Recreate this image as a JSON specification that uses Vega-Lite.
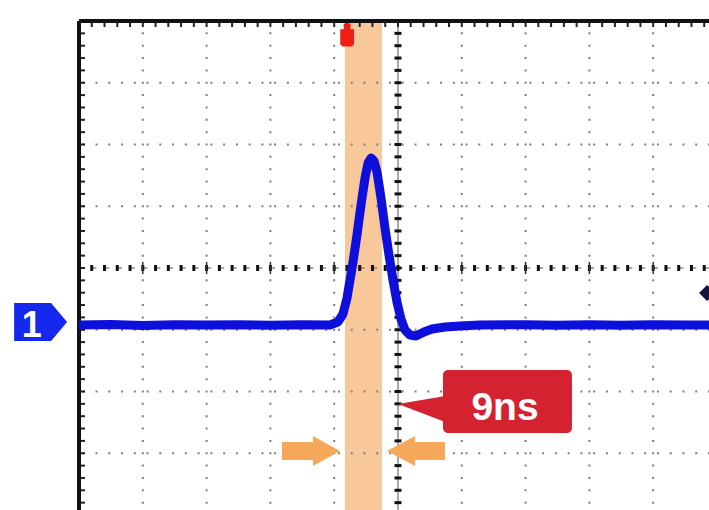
{
  "$schema": "https://vega.github.io/schema/vega-lite/v6.json",
  "width": 630,
  "height": 489,
  "autosize": {"type": "none"},
  "padding": {"left": 79, "top": 21, "right": 0, "bottom": 0},
  "background": "white",
  "config": {"view": {"stroke": null}},
  "datasets": {
    "wave": [
      {"t": -5.0, "v": -0.923}, {"t": -4.5, "v": -0.915}, {"t": -4.0, "v": -0.93}, {"t": -3.5, "v": -0.92},
      {"t": -3.0, "v": -0.925}, {"t": -2.5, "v": -0.918}, {"t": -2.0, "v": -0.928}, {"t": -1.5, "v": -0.92},
      {"t": -1.066, "v": -0.923}, {"t": -0.94, "v": -0.874}, {"t": -0.862, "v": -0.745},
      {"t": -0.799, "v": -0.486}, {"t": -0.752, "v": -0.194}, {"t": -0.705, "v": 0.097},
      {"t": -0.643, "v": 0.534}, {"t": -0.58, "v": 1.02}, {"t": -0.517, "v": 1.457},
      {"t": -0.47, "v": 1.7}, {"t": -0.423, "v": 1.781}, {"t": -0.376, "v": 1.733},
      {"t": -0.329, "v": 1.555}, {"t": -0.266, "v": 1.134}, {"t": -0.204, "v": 0.648},
      {"t": -0.141, "v": 0.211}, {"t": -0.078, "v": -0.194}, {"t": -0.016, "v": -0.551},
      {"t": 0.047, "v": -0.826}, {"t": 0.11, "v": -1.004}, {"t": 0.188, "v": -1.085},
      {"t": 0.282, "v": -1.101}, {"t": 0.408, "v": -1.036}, {"t": 0.533, "v": -0.988},
      {"t": 0.737, "v": -0.955}, {"t": 0.972, "v": -0.939}, {"t": 1.285, "v": -0.923},
      {"t": 2.0, "v": -0.918}, {"t": 2.5, "v": -0.928}, {"t": 3.0, "v": -0.92}, {"t": 3.5, "v": -0.926},
      {"t": 4.0, "v": -0.918}, {"t": 4.5, "v": -0.925}, {"t": 4.875, "v": -0.923}
    ],
    "gridx": [{"x": -4}, {"x": -3}, {"x": -2}, {"x": -1}, {"x": 1}, {"x": 2}, {"x": 3}, {"x": 4}],
    "gridy": [{"y": -3}, {"y": -2}, {"y": -1}, {"y": 1}, {"y": 2}, {"y": 3}],
    "xmajor": [{"x": -4}, {"x": -3}, {"x": -2}, {"x": -1}, {"x": 1}, {"x": 2}, {"x": 3}, {"x": 4}],
    "xminor": [
      {"x": -4.8}, {"x": -4.6}, {"x": -4.4}, {"x": -4.2}, {"x": -4.0}, {"x": -3.8}, {"x": -3.6}, {"x": -3.4}, {"x": -3.2}, {"x": -3.0},
      {"x": -2.8}, {"x": -2.6}, {"x": -2.4}, {"x": -2.2}, {"x": -2.0}, {"x": -1.8}, {"x": -1.6}, {"x": -1.4}, {"x": -1.2}, {"x": -1.0},
      {"x": -0.8}, {"x": -0.6}, {"x": -0.4}, {"x": -0.2}, {"x": 0.0}, {"x": 0.2}, {"x": 0.4}, {"x": 0.6}, {"x": 0.8}, {"x": 1.0},
      {"x": 1.2}, {"x": 1.4}, {"x": 1.6}, {"x": 1.8}, {"x": 2.0}, {"x": 2.2}, {"x": 2.4}, {"x": 2.6}, {"x": 2.8}, {"x": 3.0},
      {"x": 3.2}, {"x": 3.4}, {"x": 3.6}, {"x": 3.8}, {"x": 4.0}, {"x": 4.2}, {"x": 4.4}, {"x": 4.6}, {"x": 4.8}
    ],
    "yminor": [
      {"y": -3.8}, {"y": -3.6}, {"y": -3.4}, {"y": -3.2}, {"y": -3.0}, {"y": -2.8}, {"y": -2.6}, {"y": -2.4}, {"y": -2.2}, {"y": -2.0},
      {"y": -1.8}, {"y": -1.6}, {"y": -1.4}, {"y": -1.2}, {"y": -1.0}, {"y": -0.8}, {"y": -0.6}, {"y": -0.4}, {"y": -0.2}, {"y": 0.0},
      {"y": 0.2}, {"y": 0.4}, {"y": 0.6}, {"y": 0.8}, {"y": 1.0}, {"y": 1.2}, {"y": 1.4}, {"y": 1.6}, {"y": 1.8}, {"y": 2.0},
      {"y": 2.2}, {"y": 2.4}, {"y": 2.6}, {"y": 2.8}, {"y": 3.0}, {"y": 3.2}, {"y": 3.4}, {"y": 3.6}, {"y": 3.8}
    ],
    "band": [{"x1": -0.831, "x2": -0.251}],
    "arrowR": [{"x": -1.364, "y": -2.964}],
    "arrowL": [{"x": 0.282, "y": -2.964}],
    "box": [{"x1": 0.705, "x2": 2.727, "y1": -1.652, "y2": -2.672}],
    "pointer": [{"x": 0.353, "y": -2.283}],
    "label": [{"x": 1.677, "y": -2.462, "text": "9ns"}],
    "ch": [{"x": -5.602, "y": -0.874}],
    "chlabel": [{"x": -5.742, "y": -1.117, "text": "1"}],
    "trig": [{"x": -0.797, "y": 3.773}],
    "level": [{"x": 4.845, "y": -0.405}],
    "border": [{"x": -5, "y": 4}]
  },
  "layer": [
    {
      "data": {"name": "band"},
      "mark": {"type": "rect", "color": "#F8C89A", "opacity": 1},
      "encoding": {
        "x": {"field": "x1", "type": "quantitative", "scale": {"domain": [-5, 4.875], "nice": false, "zero": false}, "axis": null},
        "x2": {"field": "x2"}
      }
    },
    {
      "data": {"name": "gridx"},
      "mark": {"type": "rule", "color": "#7d7d7d", "strokeWidth": 2, "strokeDash": [2, 10.35], "strokeDashOffset": 1},
      "encoding": {
        "x": {"field": "x", "type": "quantitative", "scale": {"domain": [-5, 4.875], "nice": false, "zero": false}, "axis": null}
      }
    },
    {
      "data": {"name": "gridy"},
      "mark": {"type": "rule", "color": "#7d7d7d", "strokeWidth": 2, "strokeDash": [2, 10.76], "strokeDashOffset": 1},
      "encoding": {
        "y": {"field": "y", "type": "quantitative", "scale": {"domain": [-3.919, 4], "nice": false, "zero": false}, "axis": null}
      }
    },
    {
      "data": {"name": "border"},
      "mark": {"type": "rule", "color": "#555555", "strokeWidth": 1},
      "encoding": {
        "x": {"datum": 0, "type": "quantitative", "scale": {"domain": [-5, 4.875], "nice": false, "zero": false}, "axis": null}
      }
    },
    {
      "data": {"name": "border"},
      "mark": {"type": "rule", "color": "#555555", "strokeWidth": 1, "strokeDash": [4, 8.76]},
      "encoding": {
        "y": {"datum": 0, "type": "quantitative", "scale": {"domain": [-3.919, 4], "nice": false, "zero": false}, "axis": null}
      }
    },
    {
      "data": {"name": "xminor"},
      "mark": {"type": "tick", "orient": "vertical", "color": "#111111", "size": 6, "thickness": 3, "opacity": 1},
      "encoding": {
        "x": {"field": "x", "type": "quantitative", "scale": {"domain": [-5, 4.875], "nice": false, "zero": false}, "axis": null},
        "y": {"datum": 0, "type": "quantitative", "scale": {"domain": [-3.919, 4], "nice": false, "zero": false}, "axis": null}
      }
    },
    {
      "data": {"name": "xmajor"},
      "mark": {"type": "tick", "orient": "vertical", "color": "#333333", "size": 12, "thickness": 1.5, "opacity": 1},
      "encoding": {
        "x": {"field": "x", "type": "quantitative", "scale": {"domain": [-5, 4.875], "nice": false, "zero": false}, "axis": null},
        "y": {"datum": 0, "type": "quantitative", "scale": {"domain": [-3.919, 4], "nice": false, "zero": false}, "axis": null}
      }
    },
    {
      "data": {"name": "yminor"},
      "mark": {"type": "tick", "orient": "horizontal", "color": "#111111", "size": 7, "thickness": 3, "opacity": 1},
      "encoding": {
        "x": {"datum": 0, "type": "quantitative", "scale": {"domain": [-5, 4.875], "nice": false, "zero": false}, "axis": null},
        "y": {"field": "y", "type": "quantitative", "scale": {"domain": [-3.919, 4], "nice": false, "zero": false}, "axis": null}
      }
    },
    {
      "data": {"name": "xminor"},
      "mark": {"type": "tick", "orient": "vertical", "color": "#222222", "size": 12, "thickness": 2, "opacity": 1, "clip": true},
      "encoding": {
        "x": {"field": "x", "type": "quantitative", "scale": {"domain": [-5, 4.875], "nice": false, "zero": false}, "axis": null},
        "y": {"datum": 4, "type": "quantitative", "scale": {"domain": [-3.919, 4], "nice": false, "zero": false}, "axis": null}
      }
    },
    {
      "data": {"name": "yminor"},
      "mark": {"type": "tick", "orient": "horizontal", "color": "#222222", "size": 12, "thickness": 2, "opacity": 1, "clip": true},
      "encoding": {
        "x": {"datum": -5, "type": "quantitative", "scale": {"domain": [-5, 4.875], "nice": false, "zero": false}, "axis": null},
        "y": {"field": "y", "type": "quantitative", "scale": {"domain": [-3.919, 4], "nice": false, "zero": false}, "axis": null}
      }
    },
    {
      "data": {"name": "border"},
      "mark": {"type": "rule", "color": "#111111", "strokeWidth": 4},
      "encoding": {
        "x": {"field": "x", "type": "quantitative", "scale": {"domain": [-5, 4.875], "nice": false, "zero": false}, "axis": null}
      }
    },
    {
      "data": {"name": "border"},
      "mark": {"type": "rule", "color": "#111111", "strokeWidth": 4},
      "encoding": {
        "y": {"field": "y", "type": "quantitative", "scale": {"domain": [-3.919, 4], "nice": false, "zero": false}, "axis": null}
      }
    },
    {
      "data": {"name": "wave"},
      "mark": {"type": "line", "color": "#0F0FDC", "strokeWidth": 9, "strokeJoin": "round", "strokeCap": "butt", "clip": true},
      "encoding": {
        "x": {"field": "t", "type": "quantitative", "scale": {"domain": [-5, 4.875], "nice": false, "zero": false}, "axis": null},
        "y": {"field": "v", "type": "quantitative", "scale": {"domain": [-3.919, 4], "nice": false, "zero": false}, "axis": null}
      }
    },
    {
      "data": {"name": "arrowR"},
      "mark": {"type": "point", "shape": "M -1 -0.31 L 0.07 -0.31 L 0.07 -0.52 L 1 0 L 0.07 0.52 L 0.07 0.31 L -1 0.31 Z", "filled": true, "size": 3364, "color": "#F5A85A", "opacity": 1, "strokeWidth": 0},
      "encoding": {
        "x": {"field": "x", "type": "quantitative", "scale": {"domain": [-5, 4.875], "nice": false, "zero": false}, "axis": null},
        "y": {"field": "y", "type": "quantitative", "scale": {"domain": [-3.919, 4], "nice": false, "zero": false}, "axis": null}
      }
    },
    {
      "data": {"name": "arrowL"},
      "mark": {"type": "point", "shape": "M 1 -0.31 L -0.03 -0.31 L -0.03 -0.52 L -1 0 L -0.03 0.52 L -0.03 0.31 L 1 0.31 Z", "filled": true, "size": 3364, "color": "#F5A85A", "opacity": 1, "strokeWidth": 0},
      "encoding": {
        "x": {"field": "x", "type": "quantitative", "scale": {"domain": [-5, 4.875], "nice": false, "zero": false}, "axis": null},
        "y": {"field": "y", "type": "quantitative", "scale": {"domain": [-3.919, 4], "nice": false, "zero": false}, "axis": null}
      }
    },
    {
      "data": {"name": "box"},
      "mark": {"type": "rect", "color": "#D42231", "cornerRadius": 5, "opacity": 1},
      "encoding": {
        "x": {"field": "x1", "type": "quantitative", "scale": {"domain": [-5, 4.875], "nice": false, "zero": false}, "axis": null},
        "x2": {"field": "x2"},
        "y": {"field": "y1", "type": "quantitative", "scale": {"domain": [-3.919, 4], "nice": false, "zero": false}, "axis": null},
        "y2": {"field": "y2"}
      }
    },
    {
      "data": {"name": "pointer"},
      "mark": {"type": "point", "shape": "M -1 -0.22 L 1.1 -0.58 L 1.1 0.58 Z", "filled": true, "size": 2025, "color": "#D42231", "opacity": 1, "strokeWidth": 0},
      "encoding": {
        "x": {"field": "x", "type": "quantitative", "scale": {"domain": [-5, 4.875], "nice": false, "zero": false}, "axis": null},
        "y": {"field": "y", "type": "quantitative", "scale": {"domain": [-3.919, 4], "nice": false, "zero": false}, "axis": null}
      }
    },
    {
      "data": {"name": "label"},
      "mark": {"type": "text", "font": "Liberation Sans", "fontWeight": "bold", "fontSize": 39, "color": "white", "align": "center", "baseline": "alphabetic"},
      "encoding": {
        "x": {"field": "x", "type": "quantitative", "scale": {"domain": [-5, 4.875], "nice": false, "zero": false}, "axis": null},
        "y": {"field": "y", "type": "quantitative", "scale": {"domain": [-3.919, 4], "nice": false, "zero": false}, "axis": null},
        "text": {"field": "text"}
      }
    },
    {
      "data": {"name": "ch"},
      "mark": {"type": "point", "shape": "M -1 -0.717 L 0.396 -0.717 L 1 0 L 0.396 0.717 L -1 0.717 Z", "filled": true, "size": 2809, "color": "#1428EE", "opacity": 1, "strokeWidth": 0},
      "encoding": {
        "x": {"field": "x", "type": "quantitative", "scale": {"domain": [-5, 4.875], "nice": false, "zero": false}, "axis": null},
        "y": {"field": "y", "type": "quantitative", "scale": {"domain": [-3.919, 4], "nice": false, "zero": false}, "axis": null}
      }
    },
    {
      "data": {"name": "chlabel"},
      "mark": {"type": "text", "font": "Liberation Sans", "fontWeight": "bold", "fontSize": 36, "color": "white", "align": "center", "baseline": "alphabetic"},
      "encoding": {
        "x": {"field": "x", "type": "quantitative", "scale": {"domain": [-5, 4.875], "nice": false, "zero": false}, "axis": null},
        "y": {"field": "y", "type": "quantitative", "scale": {"domain": [-3.919, 4], "nice": false, "zero": false}, "axis": null},
        "text": {"field": "text"}
      }
    },
    {
      "data": {"name": "trig"},
      "mark": {"type": "point", "shape": "M -0.3 -1 L 0.3 -1 L 0.3 -0.5 L 0.6 -0.5 L 0.6 0.8 L 0.4 1 L -0.4 1 L -0.6 0.8 L -0.6 -0.5 L -0.3 -0.5 Z", "filled": true, "size": 529, "color": "#F01E12", "opacity": 1, "strokeWidth": 0},
      "encoding": {
        "x": {"field": "x", "type": "quantitative", "scale": {"domain": [-5, 4.875], "nice": false, "zero": false}, "axis": null},
        "y": {"field": "y", "type": "quantitative", "scale": {"domain": [-3.919, 4], "nice": false, "zero": false}, "axis": null}
      }
    },
    {
      "data": {"name": "level"},
      "mark": {"type": "point", "shape": "diamond", "filled": true, "size": 260, "color": "#15153A", "opacity": 1, "strokeWidth": 0},
      "encoding": {
        "x": {"field": "x", "type": "quantitative", "scale": {"domain": [-5, 4.875], "nice": false, "zero": false}, "axis": null},
        "y": {"field": "y", "type": "quantitative", "scale": {"domain": [-3.919, 4], "nice": false, "zero": false}, "axis": null}
      }
    }
  ]
}
